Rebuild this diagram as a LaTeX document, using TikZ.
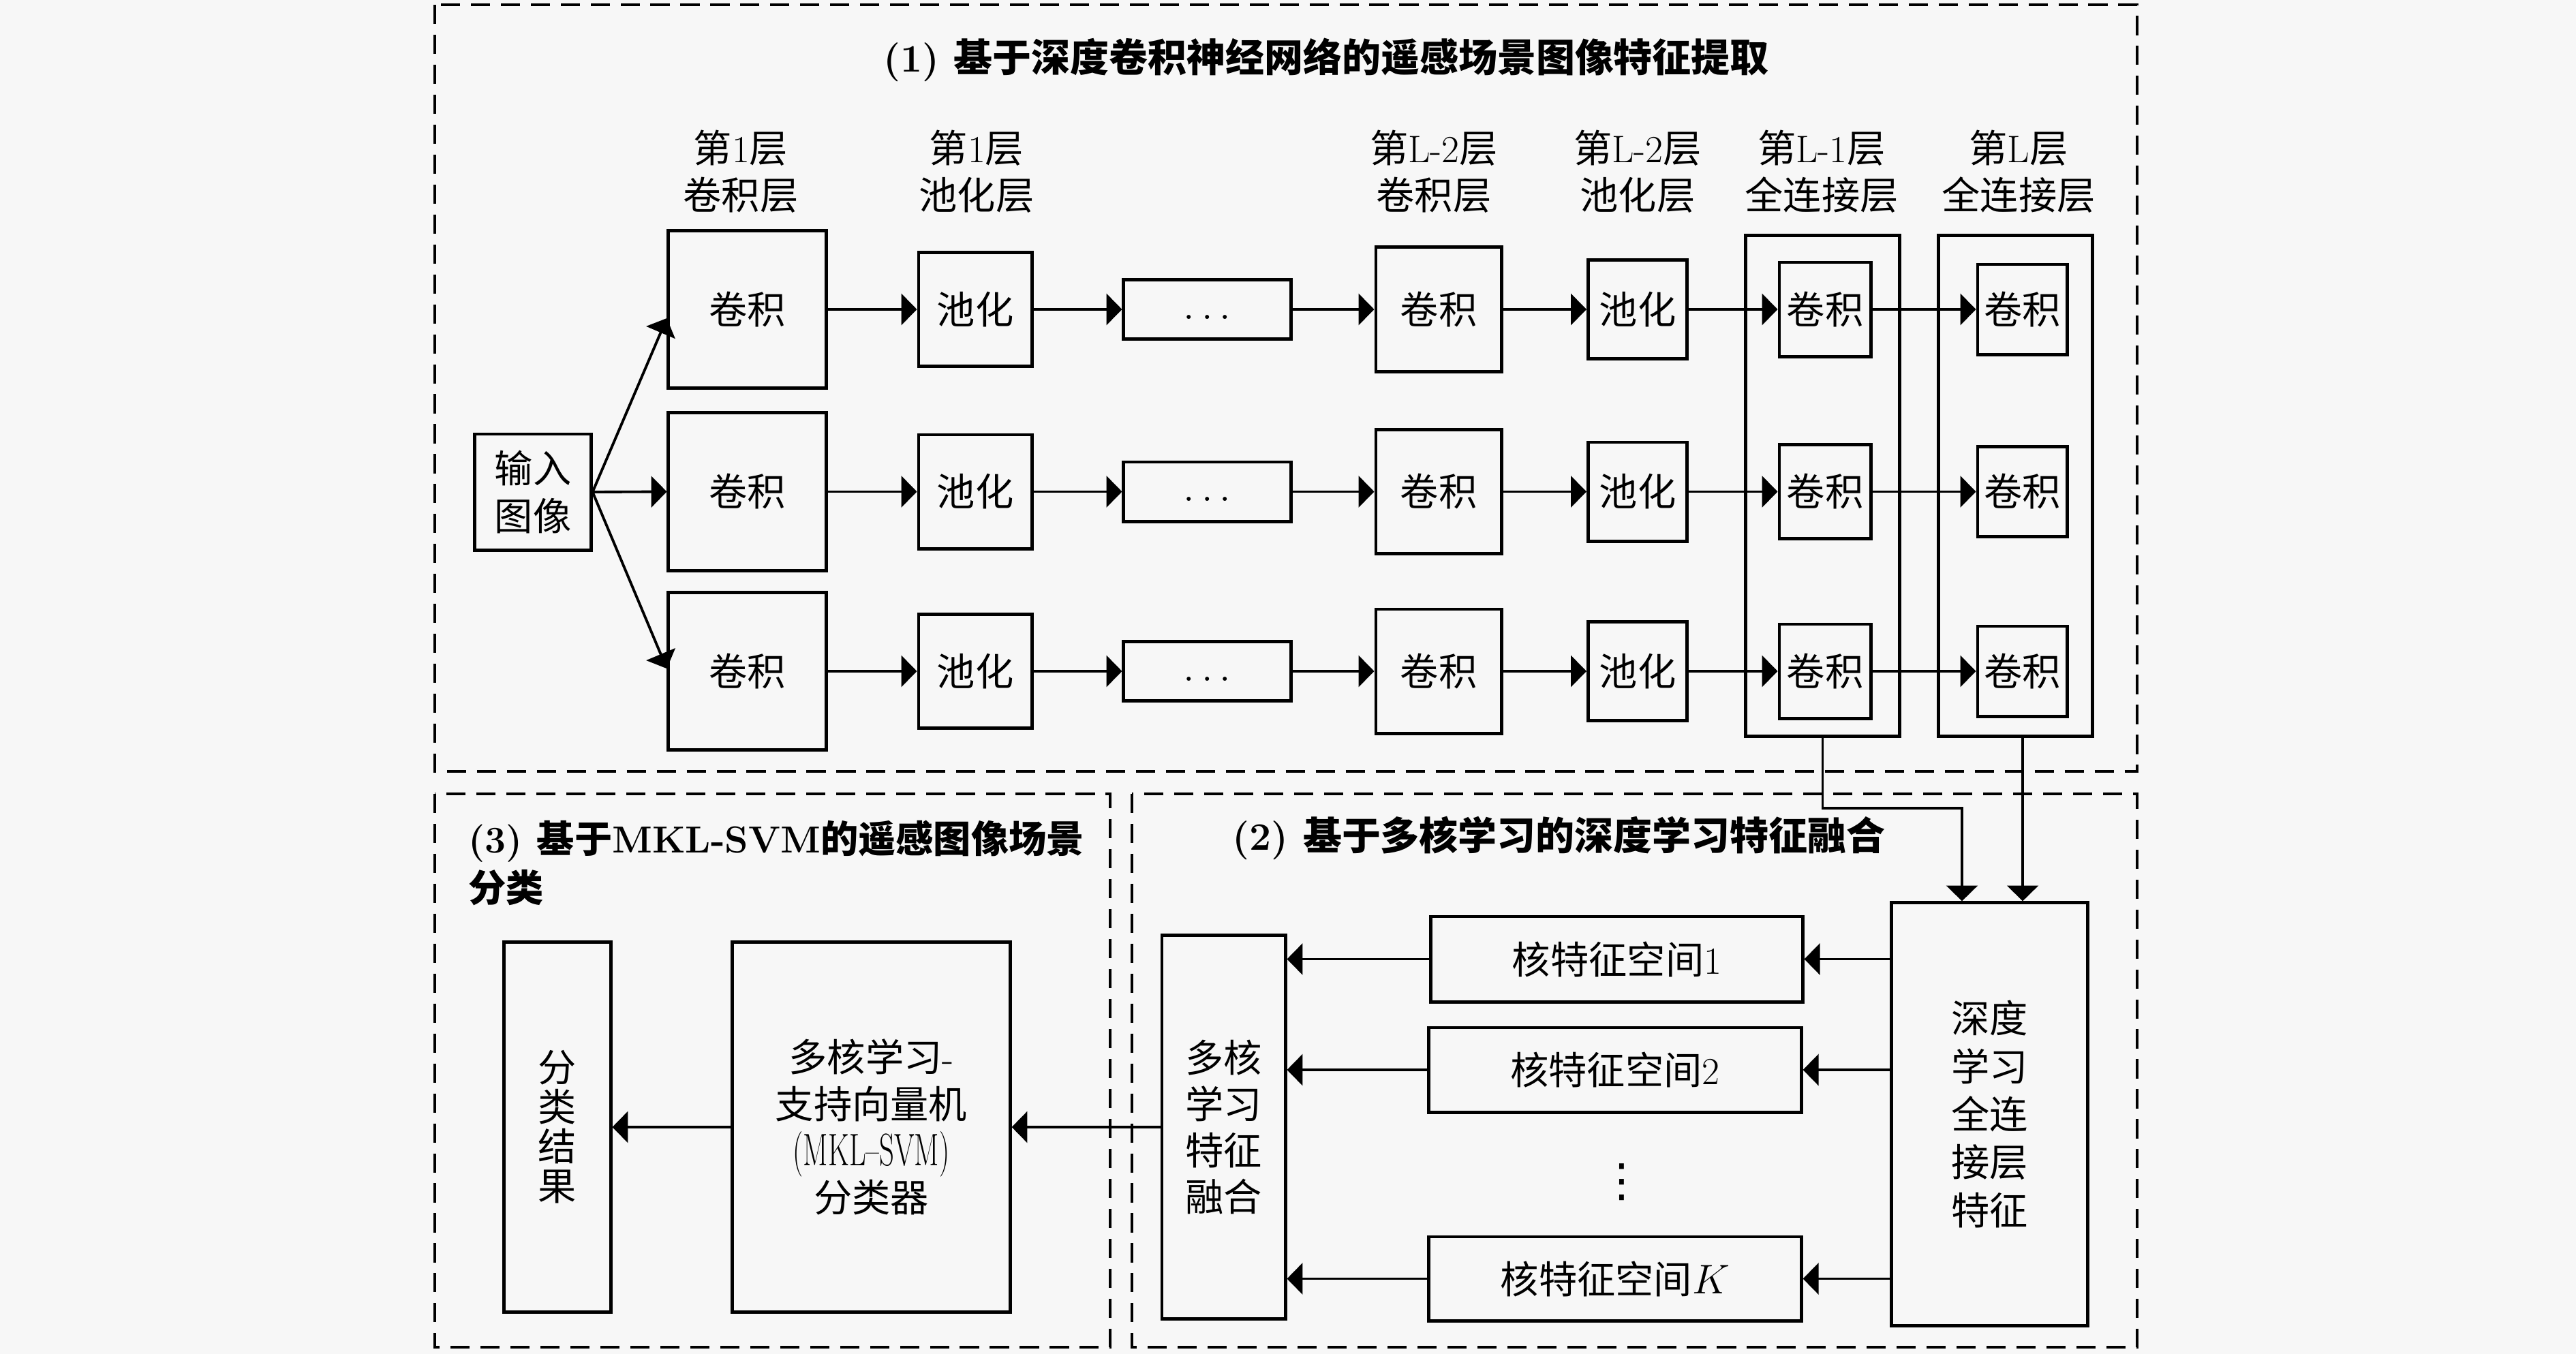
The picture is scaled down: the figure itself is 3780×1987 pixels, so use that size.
\documentclass[tikz,border=0pt]{standalone}
\usepackage{fontspec}
\usepackage{graphicx}
\newfontfamily\cjk{Noto Sans CJK SC}
\newfontfamily\dejavu{DejaVu Sans}
\newcommand\zh[1]{{\cjk #1}}
\usetikzlibrary{arrows.meta,calc}
\definecolor{bgc}{RGB}{247,247,247}
\begin{document}
\begin{tikzpicture}[x=0.01cm,y=-0.01cm,
  box/.style={draw,line width=1.4pt,inner sep=0pt,align=center,
    font=\fontsize{16}{20}\selectfont},
  arr/.style={line width=1.1pt,-{Triangle[length=6.5pt,width=13pt]}},
  frame/.style={line width=1.4pt,dash pattern=on 8pt off 4.5pt},
  lab/.style={align=center,inner sep=0pt,font=\fontsize{16}{19.6}\selectfont},
  ttl/.style={inner sep=0pt,align=left,font=\fontsize{16.2}{20.5}\selectfont\bfseries}]
\fill[bgc] (0,0) rectangle (3780,1987);
\useasboundingbox (0,0) rectangle (3780,1987);
% frames
\draw[frame] (638,7) rectangle (3136,1132);
\draw[frame] (638,1165) rectangle (1629,1977);
\draw[frame] (1661,1165) rectangle (3136,1977);
% titles
\node[ttl] (t1) at (1946,88) {(1) \zh{基于深度卷积神经网络的遥感场景图像特征提取}};
\node[ttl,anchor=west,font=\fontsize{15.7}{20.5}\selectfont\bfseries] (t3) at (687,1266) {(3) \zh{基于}MKL-SVM\zh{的遥感图像场景}\\\zh{分类}};
\node[ttl,anchor=west] (t2) at (1808,1230) {(2) \zh{基于多核学习的深度学习特征融合}};
% column labels
\node[lab] (l1) at (1087,252) {\zh{第}1\zh{层}\\\zh{卷积层}};
\node[lab] (l2) at (1433,252) {\zh{第}1\zh{层}\\\zh{池化层}};
\node[lab] (l4) at (2104,252) {\zh{第}L-2\zh{层}\\\zh{卷积层}};
\node[lab] (l5) at (2403,252) {\zh{第}L-2\zh{层}\\\zh{池化层}};
\node[lab] (l6) at (2673,252) {\zh{第}L-1\zh{层}\\\zh{全连接层}};
\node[lab] (l7) at (2962,252) {\zh{第}L\zh{层}\\\zh{全连接层}};
% input
\node[box,minimum width=1.70cm,minimum height=1.70cm] (inp) at (782,722) {\zh{输入}\\\zh{图像}};
% FC outer boxes
\node[box,minimum width=2.25cm,minimum height=7.34cm] (o6) at (2674.5,713) {};
\node[box,minimum width=2.25cm,minimum height=7.34cm] (o7) at (2957.5,713) {};
% rows
\foreach \r/\y/\s in {1/454/-3.7,2/721.5/0,3/985/1.1}{
  \node[box,minimum width=2.31cm,minimum height=2.31cm] (c\r) at (1096.5,\y) {\zh{卷积}};
  \node[box,minimum width=1.66cm,minimum height=1.67cm] (p\r) at (1431,\y) {\zh{池化}};
  \node[box,minimum width=2.45cm,minimum height=0.87cm] (d\r) at (1771.5,\y) {\strut$\ldots$};
  \node[box,minimum width=1.84cm,minimum height=1.82cm] (q\r) at (2111,\y) {\zh{卷积}};
  \node[box,minimum width=1.45cm,minimum height=1.45cm] (s\r) at (2403,\y) {\zh{池化}};
  \node[box,minimum width=1.34cm,minimum height=1.38cm] (f\r) at (2678,\y) {\zh{卷积}};
  \node[box,minimum width=1.31cm,minimum height=1.32cm] (g\r) at (2967.5,\y) {\zh{卷积}};
  \draw[arr] (inp.east) -- ([yshift=\s pt]c\r.west);
  \draw[arr] (c\r) -- (p\r);
  \draw[arr] (p\r) -- (d\r);
  \draw[arr] (d\r) -- (q\r);
  \draw[arr] (q\r) -- (s\r);
  \draw[arr] (s\r.east) -- (f\r.west);
  \draw[arr] (f\r.east) -- (g\r.west);
}
% bottom section
\node[box,minimum width=2.87cm,minimum height=6.20cm] (deep) at (2919.5,1635) {\zh{深度}\\\zh{学习}\\\zh{全连}\\\zh{接层}\\\zh{特征}};
\node[box,minimum width=5.45cm,minimum height=1.25cm] (k1) at (2372.5,1407.5) {\zh{核特征空间}1};
\node[box,minimum width=5.46cm,minimum height=1.24cm] (k2) at (2370,1570) {\zh{核特征空间}2};
\node[box,minimum width=5.46cm,minimum height=1.23cm] (kK) at (2370,1876.5) {\zh{核特征空间}$K$};
\node[font=\fontsize{19}{20}\selectfont\dejavu,inner sep=0pt] (vd) at (2380,1735) {⋮};
\node[box,minimum width=1.81cm,minimum height=5.62cm,font=\fontsize{16}{19.3}\selectfont] (fuse) at (1795.5,1654) {\zh{多核}\\\zh{学习}\\\zh{特征}\\\zh{融合}};
\node[box,minimum width=4.07cm,minimum height=5.42cm,font=\fontsize{16}{19.6}\selectfont] (mkl) at (1278.5,1654) {\zh{多核学习}-\\\zh{支持向量机}\\\scalebox{0.64}[1]{\fontsize{19}{19}\selectfont(MKL--SVM)}\\\zh{分类器}};
\node[box,minimum width=1.56cm,minimum height=5.42cm,font=\fontsize{16}{16.5}\selectfont] (res) at (818,1654) {\zh{分}\\\zh{类}\\\zh{结}\\\zh{果}};
% down connectors
\coordinate (j6) at (2879,1186);
\draw[arr] (o6.south) |- (j6) -- (j6 |- deep.north);
\coordinate (o7b) at ([xshift=3pt]o7.south);
\draw[arr] (o7b) -- (o7b |- deep.north);
% kernel arrows
\foreach \k in {k1,k2,kK}{
  \draw[arr] (\k.east -| deep.west) -- (\k.east);
  \draw[arr] (\k.west) -- (\k.west -| fuse.east);
}
\draw[arr] (fuse.west) -- (fuse.west -| mkl.east);
\draw[arr] (mkl.west) -- (mkl.west -| res.east);
\end{tikzpicture}
\end{document}
